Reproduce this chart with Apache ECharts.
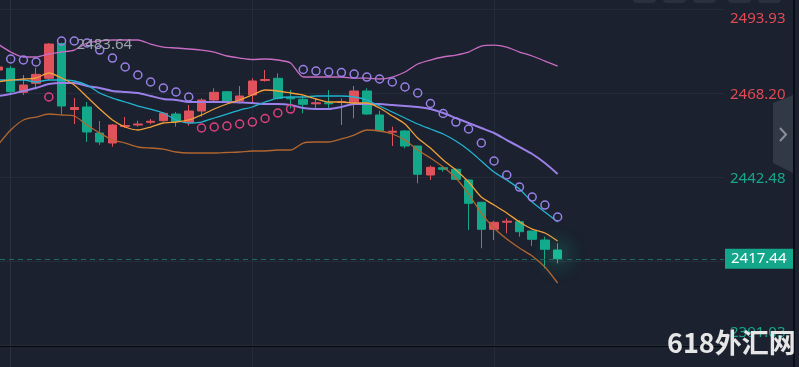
<!DOCTYPE html>
<html><head><meta charset="utf-8">
<script src="https://cdn.jsdelivr.net/npm/echarts@6/dist/echarts.min.js"></script>
<style>html,body{margin:0;padding:0;background:#1b212e;}#c{width:799px;height:367px;}</style>
</head><body><div id="c"></div>
<script>
// candle index of the first (partially hidden) bar
const firstIndex = -1;
const opens = [2475.25,2475.77,2468.42,2471.18,2472.71,2483.35,2463.15,2463.92,2455.95,2452.89,2457.95,2458.40,2459.23,2459.72,2461.77,2459.11,2462.69,2466.06,2468.60,2465.75,2467.59,2472.03,2472.71,2466.74,2466.28,2464.90,2465.20,2465.30,2465.36,2468.82,2461.47,2456.20,2456.57,2451.97,2443.09,2445.33,2444.84,2441.56,2434.73,2426.46,2428.64,2428.79,2425.94,2423.19,2420.12];
const closes = [2476.17,2468.60,2470.65,2473.93,2483.20,2464.22,2463.76,2456.26,2453.20,2458.40,2458.25,2458.71,2459.54,2461.99,2459.41,2462.69,2466.06,2468.42,2465.75,2467.29,2471.88,2472.34,2466.58,2466.43,2464.74,2465.20,2464.90,2465.54,2468.82,2461.77,2456.66,2456.51,2451.97,2443.31,2445.45,2444.84,2441.77,2434.42,2426.46,2428.60,2428.94,2425.73,2423.40,2420.34,2417.44];
const lows = [2474.64,2467.59,2467.59,2469.34,2472.19,2461.77,2458.71,2453.20,2452.29,2451.76,2457.49,2457.89,2458.62,2459.41,2457.89,2458.19,2460.95,2465.54,2465.54,2465.05,2465.05,2471.67,2466.21,2463.52,2461.99,2463.00,2463.52,2458.40,2460.46,2461.47,2456.35,2451.97,2451.27,2440.55,2441.56,2444.10,2441.56,2426.25,2420.64,2423.19,2425.24,2424.19,2421.35,2414.52,2416.05];
const highs = [2476.78,2476.47,2473.72,2475.95,2483.50,2483.64,2466.67,2465.45,2459.63,2458.71,2460.85,2459.72,2460.24,2462.39,2462.39,2464.53,2466.58,2469.64,2468.82,2470.35,2472.71,2475.25,2474.24,2469.12,2467.07,2466.58,2469.12,2466.52,2470.35,2469.64,2462.79,2457.89,2456.87,2452.00,2446.00,2445.85,2445.15,2441.77,2434.91,2429.09,2429.83,2429.31,2426.00,2424.19,2422.17];
const bollUpper = [2483.21,2480.76,2479.23,2479.23,2480.15,2480.76,2481.37,2483.52,2484.13,2484.44,2484.44,2484.44,2483.21,2482.29,2481.99,2481.68,2481.37,2480.76,2479.54,2478.92,2478.46,2478.62,2478.31,2477.39,2473.10,2473.10,2473.10,2473.10,2472.79,2472.79,2472.49,2473.10,2474.64,2477.09,2478.31,2479.23,2479.84,2480.76,2482.60,2482.90,2482.29,2480.76,2479.54,2478.00,2476.47];
const bollLower = [2452.28,2456.87,2459.94,2460.85,2461.77,2461.47,2461.16,2458.40,2455.95,2453.81,2452.89,2451.67,2451.36,2451.05,2450.14,2449.83,2449.83,2449.83,2449.98,2450.14,2450.45,2450.45,2450.75,2450.75,2452.89,2453.20,2453.20,2454.12,2455.34,2456.87,2456.57,2455.65,2453.81,2450.75,2448.29,2445.54,2442.17,2437.27,2431.45,2426.86,2423.49,2420.74,2418.29,2414.92,2410.02];
const maPurple = [2467.29,2467.90,2468.82,2469.74,2470.96,2471.27,2471.27,2470.35,2469.74,2468.82,2468.51,2468.21,2467.29,2466.37,2466.06,2465.45,2465.45,2465.45,2465.45,2465.30,2465.14,2464.84,2464.84,2464.53,2463.61,2463.30,2463.30,2463.92,2464.84,2464.84,2464.84,2464.53,2464.22,2463.92,2463.30,2462.08,2460.55,2459.02,2457.49,2455.95,2453.81,2451.67,2449.52,2446.77,2443.40];
const maCyan = [2472.19,2472.19,2472.19,2471.57,2472.19,2472.19,2471.88,2470.65,2468.21,2466.67,2465.45,2464.22,2463.30,2462.08,2459.94,2459.02,2459.32,2460.55,2461.77,2463.00,2463.92,2465.45,2466.67,2466.98,2466.98,2467.29,2467.29,2467.29,2466.98,2466.06,2464.22,2462.39,2460.55,2458.71,2457.18,2455.65,2453.50,2450.75,2447.38,2444.01,2441.56,2438.80,2434.82,2431.76,2428.70];
const maOrange = [2471.57,2472.19,2472.49,2472.80,2474.33,2472.80,2470.65,2466.98,2463.30,2459.94,2457.79,2456.87,2457.79,2459.02,2459.32,2459.94,2461.47,2463.30,2464.84,2466.06,2467.59,2469.12,2468.82,2468.21,2467.59,2466.37,2465.45,2465.45,2465.14,2465.14,2463.61,2461.16,2458.71,2454.42,2451.36,2447.69,2444.62,2440.95,2436.35,2433.90,2431.45,2428.70,2426.54,2425.33,2422.88];
const sarAbove = [2479.54,2478.62,2478.31,2477.70,null,2484.13,2484.13,2483.52,2481.37,2478.92,2476.17,2473.72,2471.58,2469.74,2468.51,2466.98,null,null,null,null,null,null,null,null,2475.40,2474.94,2474.64,2474.48,2474.02,2473.10,2472.49,2471.58,2470.04,2468.21,2464.99,2461.93,2459.32,2457.18,2452.89,2447.38,2443.09,2439.41,2436.35,2433.90,2430.23];
const sarBelow = [null,null,null,null,2466.98,null,null,null,null,null,null,null,null,null,null,null,2457.49,2457.79,2458.10,2458.71,2459.32,2460.40,2462.08,2463.30,null,null,null,null,null,null,null,null,null,null,null,null,null,null,null,null,null,null,null,null,null];
const yGridValues = [2493.93, 2468.20, 2442.48, 2416.75, 2391.03];
const yLabelValues = [2493.93, 2468.20, 2442.48, 2391.03];
const yLabelTexts = ['2493.93', '2468.20', '2442.48', '2391.03'];
const xGridValues = [0, 19, 38];
const lastPrice = 2417.44;
const lastPriceText = '2417.44';
const highIndex = 4;
const highValue = 2483.64;
const highText = '2483.64';
const watermark = '618外汇网';

const RED = '#e0525c', GREEN = '#13a88a';
const xs = opens.map((_, i) => i + firstIndex);
const candleData = xs.map((x, i) => {
  const item = { value: [x, opens[i], closes[i], lows[i], highs[i]] };
  if (i === xs.length - 1) item.itemStyle = { shadowBlur: 22, shadowColor: 'rgba(30,215,170,1)', color0: '#19b896', borderColor0: '#19b896' };
  return item;
});
function lineS(vals, color, width) {
  return { type: 'line', data: xs.map((x, i) => [x, vals[i]]), showSymbol: false, symbol: 'none', smooth: 0.25,
    lineStyle: { color: color, width: width }, silent: true, z: 3 };
}
function sarS(vals, color) {
  return { type: 'scatter', data: xs.map((x, i) => [x, vals[i]]).filter(d => d[1] != null), symbol: 'circle', symbolSize: 8,
    itemStyle: { color: 'rgba(0,0,0,0)', borderColor: color, borderWidth: 1.5, opacity: 1 }, silent: true, z: 4 };
}
const labelStyles = [
  { color: '#df4a55', padding: [20, 0, 0, 0] },
  { color: '#df4a55', padding: [4, 0, 0, 0] },
  { color: '#17a68a', padding: [4, 0, 0, 0] },
  { color: '#17a68a', padding: [0, 0, 24, 0] }
];
const rich = {};
labelStyles.forEach((s, k) => { rich['s' + k] = Object.assign({ fontSize: 15, fontFamily: 'Noto Sans' }, s); });

const chart = echarts.init(document.getElementById('c'), null, { renderer: 'canvas' });
chart.setOption({
  backgroundColor: '#1b212e',
  animation: false,
  grid: { left: 0, right: 75, top: 0, bottom: 0 },
  xAxis: {
    type: 'value', min: -0.841, max: 56.08,
    axisLine: { show: false }, axisLabel: { show: false },
    axisTick: { show: false, customValues: xGridValues },
    splitLine: { show: true, lineStyle: { color: '#252c39', width: 1 } }
  },
  yAxis: {
    type: 'value', position: 'right', min: 2384.29, max: 2496.69,
    axisLine: { show: true, lineStyle: { color: '#2a3241', width: 1 } },
    axisTick: { show: false, customValues: yGridValues },
    splitLine: { show: true, lineStyle: { color: '#252c39', width: 1 } },
    axisLabel: {
      show: true, customValues: yLabelValues, margin: 6, fontSize: 15, fontFamily: 'Noto Sans',
      formatter: function (v) {
        const k = yLabelValues.findIndex(t => Math.abs(t - v) < 0.005);
        return k < 0 ? '' : '{s' + k + '|' + yLabelTexts[k] + '}';
      },
      rich: rich
    }
  },
  series: [
    {
      type: 'candlestick', data: candleData, barWidth: 9, z: 2,
      itemStyle: { color: RED, color0: GREEN, borderColor: RED, borderColor0: GREEN, borderWidth: 1 },
      markLine: {
        silent: true, symbol: ['none', 'none'], animation: false,
        lineStyle: { color: '#1e6a63', type: [5, 4], width: 1 },
        label: { show: true, position: 'end', distance: 1, formatter: lastPriceText, color: '#ffffff',
          backgroundColor: '#13a68a', padding: [3, 7, 2, 6], fontSize: 15, fontFamily: 'Noto Sans' },
        emphasis: { disabled: true },
        data: [{ yAxis: lastPrice }]
      },
      markPoint: {
        silent: true, symbol: 'circle', symbolSize: 0, animation: false,
        label: { show: true, position: 'right', distance: 15, offset: [0, 2], color: '#9ca1aa', fontSize: 15,
          fontFamily: 'Noto Sans', formatter: highText },
        data: [{ coord: [highIndex, highValue] }]
      }
    },
    lineS(bollUpper, '#c96cc3', 1.3),
    lineS(bollLower, '#b2662f', 1.3),
    lineS(maPurple, '#9a80e8', 2),
    lineS(maCyan, '#21b4d2', 1.3),
    lineS(maOrange, '#f0a03a', 1.3),
    sarS(sarAbove, '#9a80e8'),
    sarS(sarBelow, '#e0417f')
  ],
  graphic: [
    { type: 'line', shape: { x1: 0, y1: 346.5, x2: 724, y2: 346.5 }, style: { stroke: '#05070a', lineWidth: 1 }, silent: true, z: 10 },
    { type: 'rect', shape: { x: 793, y: 0, width: 2, height: 367 }, style: { fill: '#0a0d13' }, silent: true, z: 10 },
    { type: 'rect', shape: { x: 633, y: -8, width: 23, height: 11, r: 4 }, style: { fill: '#2a313e' }, silent: true },
    { type: 'rect', shape: { x: 663, y: -8, width: 23, height: 11, r: 4 }, style: { fill: '#2a313e' }, silent: true },
    { type: 'rect', shape: { x: 693, y: -8, width: 23, height: 11, r: 4 }, style: { fill: '#2a313e' }, silent: true },
    { type: 'rect', shape: { x: 728, y: -8, width: 23, height: 11, r: 4 }, style: { fill: '#2a313e' }, silent: true },
    { type: 'rect', shape: { x: 758, y: -8, width: 23, height: 11, r: 4 }, style: { fill: '#2a313e' }, silent: true },
    { type: 'polygon', shape: { points: [[773, 103], [793, 95], [793, 173], [773, 163]] }, style: { fill: '#323946' }, silent: true, z: 11 },
    { type: 'polyline', shape: { points: [[780, 128], [786, 134.5], [780, 141]] }, style: { stroke: '#8b909a', lineWidth: 2, fill: null }, silent: true, z: 12 },
    { type: 'text', x: 667, y: 343, style: { text: watermark, fill: '#e6e6e6', font: 'bold 27px "Noto Sans CJK SC"', textVerticalAlign: 'middle' }, silent: true, z: 20 }
  ]
});
</script></body></html>
